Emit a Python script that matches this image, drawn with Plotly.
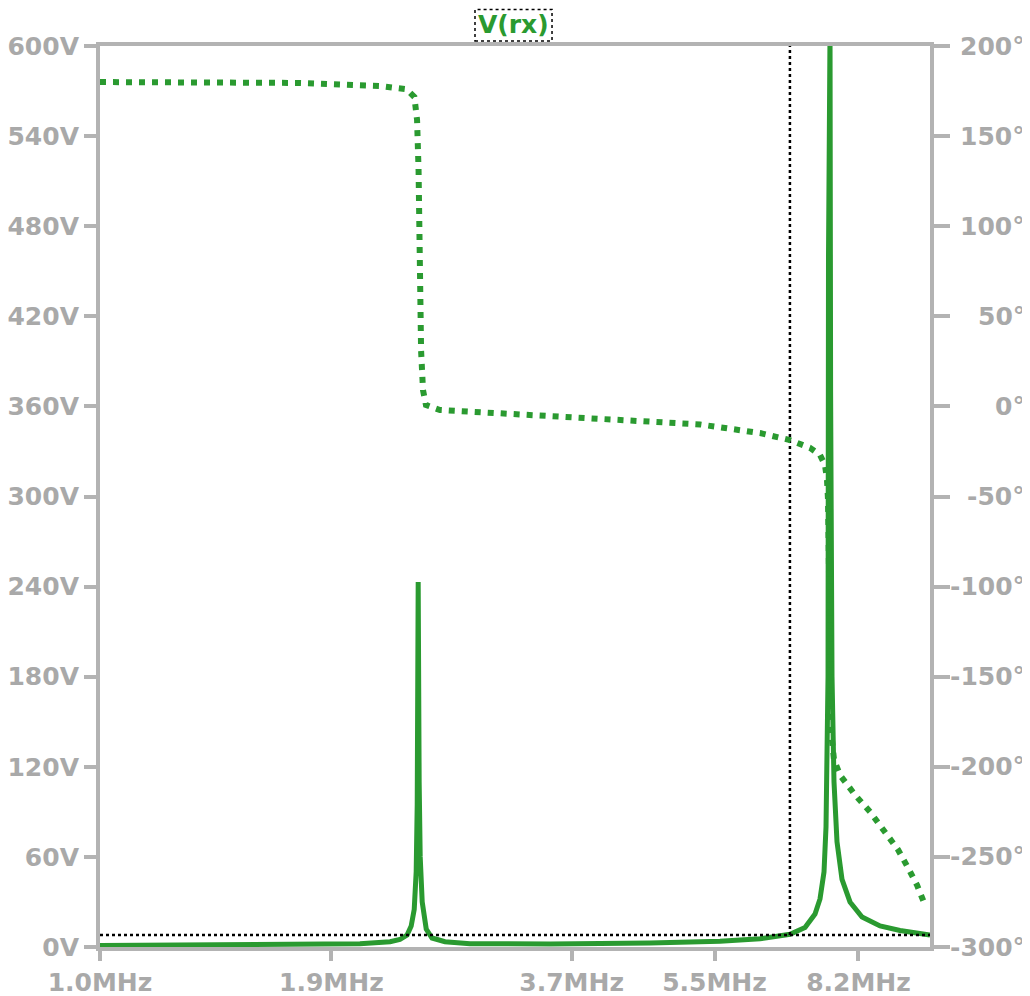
import plotly.graph_objects as go

# ---- data ----
# magnitude of V(rx): frequency in MHz, volts
mag_freq_mhz = [1.000, 1.320, 1.742, 2.057, 2.236, 2.298, 2.344, 2.371, 2.391, 2.404,
                2.411, 2.4175, 2.424, 2.431, 2.4445, 2.472, 2.512, 2.604, 2.791, 3.485,
                4.599, 5.584, 6.242, 6.781, 7.070, 7.269, 7.370, 7.4525, 7.494, 7.536,
                7.546, 7.557, 7.5777, 7.590, 7.600, 7.620, 7.662, 7.726, 7.834, 8.010,
                8.282, 8.706, 9.202, 10.000]
mag_volts = [1.0, 1.2, 1.6, 2.2, 3.5, 5.0, 8.0, 14.0, 25.0, 50.0,
             95.0, 243.0, 110.0, 60.0, 30.0, 12.0, 6.0, 3.5, 2.2, 2.0,
             2.6, 3.8, 5.5, 8.5, 13.0, 22.0, 32.0, 50.0, 80.0, 180.0,
             460.0, 600.0, 610.0, 370.0, 250.0, 180.0, 110.0, 70.0, 45.0, 30.0,
             20.0, 14.0, 11.0, 8.0]

# phase of V(rx): frequency in MHz, degrees
ph_freq_mhz = [1.000, 1.320, 1.742, 2.175, 2.340, 2.392, 2.410, 2.420, 2.425, 2.430,
               2.437, 2.450, 2.470, 2.568, 3.034, 4.004, 5.285, 6.242, 6.781, 7.169,
               7.370, 7.473, 7.515, 7.536, 7.557, 7.578, 7.599, 7.662, 7.791, 8.122,
               8.467, 8.827, 9.151, 9.409, 9.646, 9.862]
ph_deg = [180.0, 179.7, 179.5, 177.8, 176.0, 171.7, 159.0, 131.0, 92.0, 59.0,
          31.0, 9.0, 0.8, -2.0, -3.7, -6.5, -10.0, -14.8, -18.7, -23.0,
          -27.0, -32.5, -41.0, -52.0, -80.0, -135.0, -180.0, -196.0, -204.6, -215.6,
          -225.0, -236.0, -246.0, -256.0, -265.6, -276.7]

# cursors
cursor_freq_mhz = 6.78
cursor_level_v = 8.0

# axis ticks
x_tick_mhz = [1.0, 1.9, 3.7, 5.5, 8.2]
x_tick_text = ["1.0MHz", "1.9MHz", "3.7MHz", "5.5MHz", "8.2MHz"]
y_tick_v = [0, 60, 120, 180, 240, 300, 360, 420, 480, 540, 600]
y_tick_text = [f"{v}V" for v in y_tick_v]
y2_tick_deg = [-300, -250, -200, -150, -100, -50, 0, 50, 100, 150, 200]
y2_tick_text = [f"{v}°" for v in y2_tick_deg]

x_min_mhz, x_max_mhz = 1.0, 10.0

MHZ = 1e6
GREEN = "#2a9a30"
GRAY = "#b3b3b3"
LABEL_GRAY = "#a9a9a9"
FONT = "DejaVu Sans"

fig = go.Figure()

fig.add_trace(go.Scatter(
    x=[f * MHZ for f in ph_freq_mhz], y=ph_deg, yaxis="y2", mode="lines",
    line=dict(color=GREEN, width=6, dash="6px,7px"), showlegend=False,
    hoverinfo="skip"))

fig.add_trace(go.Scatter(
    x=[f * MHZ for f in mag_freq_mhz], y=mag_volts, mode="lines",
    line=dict(color=GREEN, width=5), showlegend=False, hoverinfo="skip"))

# cursor lines
fig.add_trace(go.Scatter(
    x=[cursor_freq_mhz * MHZ, cursor_freq_mhz * MHZ], y=[cursor_level_v, 600],
    mode="lines", line=dict(color="black", width=2.5, dash="dot"),
    showlegend=False, hoverinfo="skip"))
fig.add_trace(go.Scatter(
    x=[x_min_mhz * MHZ, x_max_mhz * MHZ], y=[cursor_level_v, cursor_level_v],
    mode="lines", line=dict(color="black", width=2.5, dash="dot"),
    showlegend=False, hoverinfo="skip"))

tickfont = dict(family=FONT, size=25, color=LABEL_GRAY, weight="bold")

# the page adds an 8px body margin, so the margins are offset to compensate
fig.update_layout(
    width=1030, height=996, autosize=False,
    margin=dict(l=92, r=108, t=38, b=57),
    paper_bgcolor="white", plot_bgcolor="white",
    xaxis=dict(
        type="log", range=[6, 7], automargin=False,
        tickvals=[v * MHZ for v in x_tick_mhz], ticktext=x_tick_text,
        showgrid=False, zeroline=False,
        showline=True, linecolor=GRAY, linewidth=4, mirror=True,
        ticks="outside", ticklen=10, tickwidth=4, tickcolor=GRAY,
        tickfont=tickfont),
    yaxis=dict(
        range=[0, 600], tickvals=y_tick_v, ticktext=y_tick_text, automargin=False,
        showgrid=False, zeroline=False,
        showline=True, linecolor=GRAY, linewidth=4,
        ticks="outside", ticklen=12, tickwidth=4, tickcolor=GRAY,
        tickfont=tickfont),
    yaxis2=dict(
        range=[-300, 200], tickvals=y2_tick_deg, showticklabels=False,
        overlaying="y", side="right", automargin=False,
        showgrid=False, zeroline=False,
        showline=True, linecolor=GRAY, linewidth=4,
        ticks="outside", ticklen=16, tickwidth=4, tickcolor=GRAY),
)

# right-aligned phase tick labels (as in the reference)
for val, txt in zip(y2_tick_deg, y2_tick_text):
    fig.add_annotation(
        text=txt, xref="paper", yref="y2", x=1.1165, y=val,
        xanchor="right", yanchor="middle", showarrow=False,
        font=tickfont)

# title with dashed frame
fig.add_annotation(
    text="<b>V(rx)</b>", xref="paper", yref="paper", x=0.4976, y=1.0244,
    xanchor="center", yanchor="middle", showarrow=False,
    font=dict(family=FONT, size=25, color=GREEN))
fig.add_shape(
    type="rect", xref="paper", yref="paper",
    x0=0.4518, x1=0.5446, y0=1.0055, y1=1.0405,
    line=dict(color="black", width=1.5, dash="dot"))

fig.write_html("out.html")
